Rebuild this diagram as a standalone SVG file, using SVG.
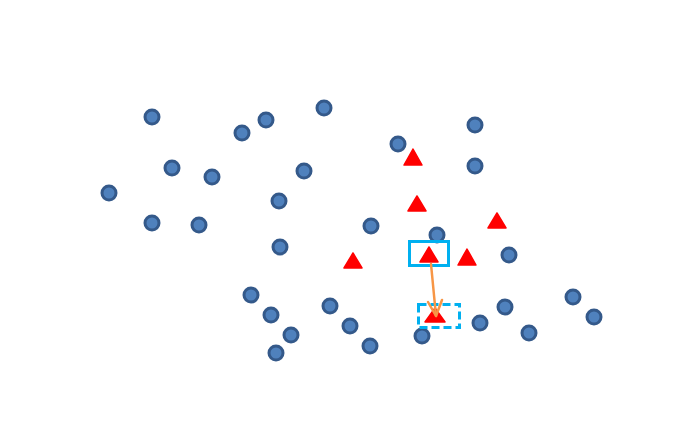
<svg xmlns="http://www.w3.org/2000/svg" width="699" height="436" viewBox="0 0 699 436">
<defs>
<style>
.pt{fill:#4f81bd;stroke:#34598a;stroke-width:3}
.tri{fill:#ff0000;stroke:#ff0000;stroke-width:1.5;stroke-linejoin:round}
.box{fill:none;stroke:#00b0f0;stroke-width:3}
.dash{fill:none;stroke:#00b0f0;stroke-width:3;stroke-dasharray:8 4}
.arr{fill:none;stroke:#f79646;stroke-width:2.5;stroke-linecap:round;stroke-linejoin:round}
</style>
</defs>
<rect width="699" height="436" fill="#ffffff"/>
<g id="points">
<circle class="pt" cx="152" cy="117" r="7"/>
<circle class="pt" cx="242" cy="133" r="7"/>
<circle class="pt" cx="266" cy="120" r="7"/>
<circle class="pt" cx="324" cy="108" r="7"/>
<circle class="pt" cx="172" cy="168" r="7"/>
<circle class="pt" cx="212" cy="177" r="7"/>
<circle class="pt" cx="109" cy="193" r="7"/>
<circle class="pt" cx="152" cy="223" r="7"/>
<circle class="pt" cx="199" cy="225" r="7"/>
<circle class="pt" cx="304" cy="171" r="7"/>
<circle class="pt" cx="279" cy="201" r="7"/>
<circle class="pt" cx="280" cy="247" r="7"/>
<circle class="pt" cx="398" cy="144" r="7"/>
<circle class="pt" cx="475" cy="125" r="7"/>
<circle class="pt" cx="475" cy="166" r="7"/>
<circle class="pt" cx="371" cy="226" r="7"/>
<circle class="pt" cx="437" cy="235" r="7"/>
<circle class="pt" cx="509" cy="255" r="7"/>
<circle class="pt" cx="251" cy="295" r="7"/>
<circle class="pt" cx="271" cy="315" r="7"/>
<circle class="pt" cx="291" cy="335" r="7"/>
<circle class="pt" cx="276" cy="353" r="7"/>
<circle class="pt" cx="330" cy="306" r="7"/>
<circle class="pt" cx="350" cy="326" r="7"/>
<circle class="pt" cx="370" cy="346" r="7"/>
<circle class="pt" cx="422" cy="336" r="7"/>
<circle class="pt" cx="480" cy="323" r="7"/>
<circle class="pt" cx="505" cy="307" r="7"/>
<circle class="pt" cx="529" cy="333" r="7"/>
<circle class="pt" cx="573" cy="297" r="7"/>
<circle class="pt" cx="594" cy="317" r="7"/>
</g>
<g id="triangles">
<polygon class="tri" points="413,149 404,165 422,165"/>
<polygon class="tri" points="417,196 408,211 426,211"/>
<polygon class="tri" points="497,213 488,228 506,228"/>
<polygon class="tri" points="353,253 344,268 362,268"/>
<polygon class="tri" points="429,247 420,262 438,262"/>
<polygon class="tri" points="467,249 458,265 476,265"/>
<polygon class="tri" points="435,308 425,322 445,322"/>
</g>
<g id="selection-box">
<rect class="box" x="409.5" y="241.5" width="39" height="24"/>
</g>
<g id="target-box">
<rect class="dash" x="418.5" y="304.5" width="41" height="23"/>
</g>
<g id="connectors">
<path class="arr" d="M431,264 L436,316"/>
<path class="arr" d="M428,302 L436,316 L442,300"/>
</g>
</svg>
